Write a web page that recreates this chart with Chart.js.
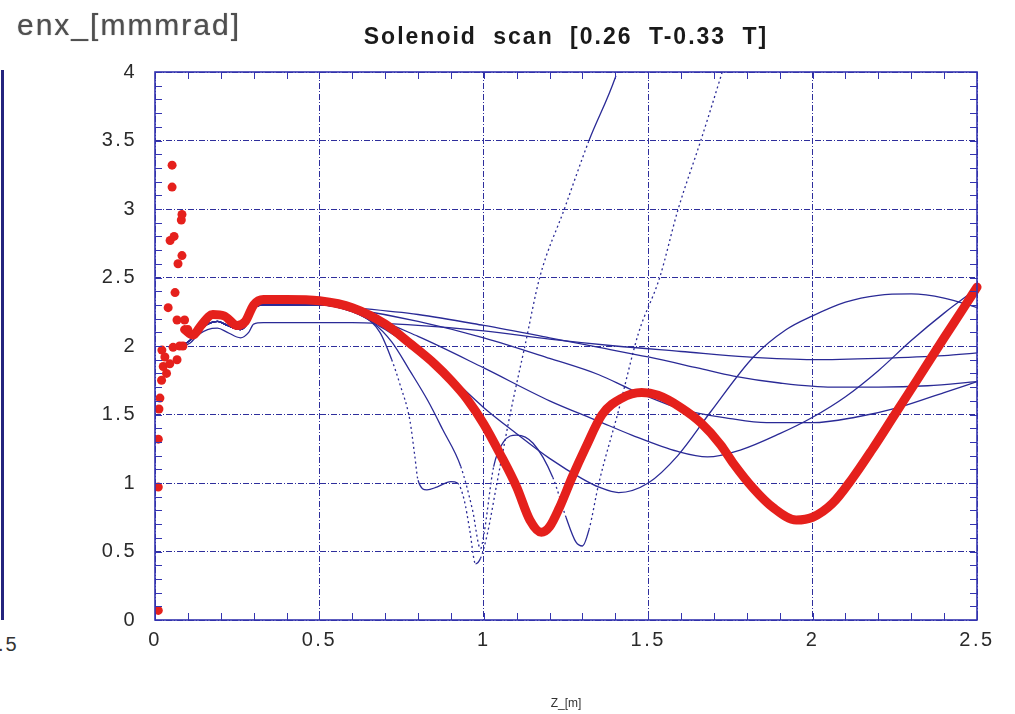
<!DOCTYPE html>
<html>
<head>
<meta charset="utf-8">
<title>Solenoid scan</title>
<script src="https://cdn.jsdelivr.net/npm/chart.js@4.4.1/dist/chart.umd.min.js"></script>
<style>
  html, body { margin: 0; padding: 0; background: #fff; }
  #wrap { position: relative; width: 1015px; height: 714px; overflow: hidden; font-family: "Liberation Sans", Arial, sans-serif; }
  #chartBox { position: absolute; left: 0; top: 0; width: 1015px; height: 714px; }
  #yLabel { position: absolute; left: 17px; top: 10px; font-size: 30px; line-height: 30px; letter-spacing: 2px; color: #4f4f4f; text-shadow: 0 0 1px #777; white-space: nowrap; }
  #mainTitle { position: absolute; left: 155px; width: 822px; top: 22px; text-align: center; font-size: 23px; line-height: 28px; font-weight: bold; letter-spacing: 2px; word-spacing: 8px; color: #1a1a1a; white-space: nowrap; }
  #xLabel { position: absolute; left: 516px; width: 100px; top: 696px; text-align: center; font-size: 12px; line-height: 14px; color: #333; }
  #sideAxis { position: absolute; left: 1px; top: 70px; width: 3px; height: 550px; background: #24247e; }
  #sideTick { position: absolute; left: -2px; top: 634px; font-size: 20px; line-height: 20px; letter-spacing: 2px; color: #333; }
</style>
</head>
<body>
<div id="wrap">
  <div id="sideAxis"></div>
  <div id="sideTick">.5</div>
  <div id="chartBox"><canvas id="scanChart"></canvas></div>
  <div id="yLabel">enx_[mmmrad]</div>
  <div id="mainTitle">Solenoid scan [0.26 T-0.33 T]</div>
  <div id="xLabel">Z_[m]</div>
</div>
<script>
// axis ticks
const zTicks = [0, 0.5, 1, 1.5, 2, 2.5];
const zTickLabels = ['0', '0.5', '1', '1.5', '2', '2.5'];
const enxTicks = [0, 0.5, 1, 1.5, 2, 2.5, 3, 3.5, 4];
const enxTickLabels = ['0', '0.5', '1', '1.5', '2', '2.5', '3', '3.5', '4'];

// red run: noisy start near the cathode, then the thick curve
const redDotZ = [0.01, 0.01, 0.01, 0.012, 0.015, 0.02, 0.021, 0.025, 0.03, 0.035, 0.04, 0.045, 0.046, 0.052, 0.052, 0.055, 0.058, 0.061, 0.067, 0.067, 0.07, 0.075, 0.08, 0.082, 0.082, 0.085, 0.09, 0.1];
const redDotEnx = [0.07, 0.97, 1.32, 1.54, 1.62, 1.75, 1.97, 1.85, 1.92, 1.80, 2.28, 1.87, 2.77, 3.32, 3.16, 1.99, 2.80, 2.39, 1.90, 2.19, 2.6, 2.0, 2.92, 2.96, 2.66, 2.0, 2.19, 2.12];

const redZ = [0.09, 0.116, 0.14, 0.176, 0.21, 0.25, 0.275, 0.3, 0.33, 0.4, 0.5, 0.6, 0.7, 0.775, 0.85, 0.9, 0.95, 1.0, 1.05, 1.1, 1.14, 1.175, 1.2, 1.23, 1.27, 1.31, 1.36, 1.42, 1.48, 1.53, 1.6, 1.66, 1.72, 1.76, 1.82, 1.88, 1.95, 2.0, 2.06, 2.12, 2.18, 2.25, 2.32, 2.4, 2.46, 2.5];
const redEnx = [2.12, 2.08, 2.15, 2.23, 2.22, 2.15, 2.18, 2.30, 2.34, 2.34, 2.33, 2.28, 2.16, 2.02, 1.87, 1.75, 1.61, 1.43, 1.21, 0.97, 0.73, 0.64, 0.68, 0.82, 1.05, 1.26, 1.50, 1.62, 1.66, 1.64, 1.55, 1.44, 1.28, 1.14, 0.96, 0.82, 0.73, 0.75, 0.85, 1.03, 1.24, 1.50, 1.76, 2.06, 2.28, 2.43];

// blue runs share the same start up to z = 0.5
const blueStartZ = [0.08, 0.106, 0.13, 0.16, 0.19, 0.22, 0.26, 0.285, 0.3, 0.33, 0.4, 0.5];
const blueStartEnx = [2.0, 2.04, 2.10, 2.16, 2.18, 2.15, 2.12, 2.18, 2.27, 2.30, 2.30, 2.30];
const lowStartEnx = [2.0, 2.02, 2.08, 2.12, 2.13, 2.10, 2.06, 2.10, 2.16, 2.17, 2.17, 2.17];

const aZ = [0.6, 0.8, 1.0, 1.2, 1.4, 1.6, 1.8, 2.0, 2.2, 2.4, 2.5];
const aEnx = [2.17, 2.15, 2.11, 2.05, 2.0, 1.96, 1.92, 1.90, 1.91, 1.93, 1.95];
const bZ = [0.6, 0.8, 1.0, 1.2, 1.35, 1.5, 1.65, 1.76, 1.9, 2.06, 2.2, 2.35, 2.5];
const bEnx = [2.28, 2.23, 2.15, 2.06, 1.99, 1.92, 1.84, 1.78, 1.73, 1.70, 1.70, 1.71, 1.74];
const cZ = [0.6, 0.8, 1.0, 1.2, 1.35, 1.45, 1.6, 1.75, 1.86, 2.0, 2.13, 2.26, 2.4, 2.5];
const cEnx = [2.27, 2.18, 2.06, 1.91, 1.79, 1.68, 1.54, 1.47, 1.44, 1.44, 1.48, 1.55, 1.66, 1.74];
const dZ = [0.6, 0.8, 1.0, 1.2, 1.35, 1.45, 1.59, 1.68, 1.78, 1.9, 2.0, 2.1, 2.2, 2.3, 2.4, 2.5];
const dEnx = [2.26, 2.07, 1.84, 1.60, 1.45, 1.35, 1.23, 1.19, 1.24, 1.36, 1.48, 1.63, 1.82, 2.04, 2.24, 2.42];
const eZ = [0.6, 0.7, 0.8, 0.9, 1.0, 1.1, 1.2, 1.3, 1.35, 1.41, 1.5, 1.59, 1.69, 1.82, 1.92, 2.0, 2.1, 2.2, 2.3, 2.4, 2.5];
const eEnx = [2.25, 2.12, 1.96, 1.77, 1.55, 1.36, 1.18, 1.03, 0.97, 0.93, 1.0, 1.2, 1.52, 1.92, 2.12, 2.22, 2.32, 2.37, 2.38, 2.35, 2.28];
const gZ = [0.6, 0.663, 0.72, 0.775, 0.83, 0.875, 0.93, 0.966, 0.99, 1.0, 1.03, 1.06, 1.1, 1.15, 1.21, 1.25, 1.28, 1.3, 1.32, 1.35, 1.41, 1.47, 1.535, 1.59, 1.66, 1.72, 1.75];
const gEnx = [2.25, 2.17, 2.03, 1.82, 1.60, 1.39, 1.12, 0.80, 0.52, 0.62, 1.12, 1.30, 1.35, 1.29, 1.04, 0.75, 0.57, 0.54, 0.66, 1.0, 1.53, 2.09, 2.50, 2.99, 3.50, 3.96, 4.2];
const hZ = [0.58, 0.62, 0.684, 0.72, 0.745, 0.775, 0.79, 0.8, 0.827, 0.857, 0.9, 0.92, 0.94, 0.957, 0.975, 0.99, 1.01, 1.04, 1.08, 1.125, 1.17, 1.245, 1.32, 1.40, 1.43];
const hEnx = [2.28, 2.24, 2.10, 1.90, 1.72, 1.46, 1.20, 1.02, 0.95, 0.97, 1.01, 1.0, 0.88, 0.66, 0.41, 0.45, 0.62, 1.0, 1.5, 2.0, 2.5, 3.0, 3.5, 3.96, 4.2];

const RED = '#e5201c';
const BLUE = '#2a2a96';
const GRID = '#2e2e9c';
const FRAME = '#3434b0';

function pts(zs, ys) {
    return zs.map(function (z, i) { return { x: z, y: ys[i] }; });
}

// steep stretches were plotted with sparse points, so they look dotted
function steep(ctx) {
    const dx = ctx.p1.parsed.x - ctx.p0.parsed.x;
    const dy = ctx.p1.parsed.y - ctx.p0.parsed.y;
    return Math.abs(dy / dx) > 6;
}

function blueLine(zs, ys) {
    return {
        data: pts(zs, ys),
        showLine: true,
        borderColor: BLUE,
        borderWidth: 1.3,
        pointRadius: 0,
        cubicInterpolationMode: 'monotone',
        clip: 0,
        segment: {
            borderDash: function (ctx) { return steep(ctx) ? [2, 3] : undefined; }
        }
    };
}

const framePlugin = {
    id: 'frame',
    beforeDraw(chart) {
        chart.ctx.letterSpacing = '2.5px';
    },
    afterDatasetsDraw(chart) {
        const ctx = chart.ctx;
        const a = chart.chartArea;
        const xs = chart.scales.x;
        const ys = chart.scales.y;
        ctx.save();
        ctx.strokeStyle = FRAME;
        ctx.lineWidth = 1;
        ctx.beginPath();
        for (let i = 0; i <= 25; i++) {
            const px = Math.round(xs.getPixelForValue(i / 10)) + 0.5;
            ctx.moveTo(px, a.bottom); ctx.lineTo(px, a.bottom - 7);
            ctx.moveTo(px, a.top); ctx.lineTo(px, a.top + 7);
        }
        for (let i = 0; i <= 40; i++) {
            const py = Math.round(ys.getPixelForValue(i / 10)) + 0.5;
            ctx.moveTo(a.left, py); ctx.lineTo(a.left + 7, py);
            ctx.moveTo(a.right, py); ctx.lineTo(a.right - 7, py);
        }
        ctx.stroke();
        ctx.lineWidth = 1.6;
        ctx.strokeRect(a.left, a.top, a.right - a.left, a.bottom - a.top);
        ctx.restore();
    }
};

const datasets = [
    {
        data: pts(redDotZ, redDotEnx),
        showLine: false,
        pointRadius: 4.5,
        pointBackgroundColor: RED,
        pointBorderWidth: 0,
        clip: 0
    },
    {
        data: pts(redZ, redEnx),
        showLine: true,
        borderColor: RED,
        borderWidth: 9,
        borderCapStyle: 'round',
        borderJoinStyle: 'round',
        pointRadius: 0,
        cubicInterpolationMode: 'monotone',
        clip: 5
    },
    blueLine(blueStartZ.concat(aZ), lowStartEnx.concat(aEnx)),
    blueLine(blueStartZ.concat(bZ), blueStartEnx.concat(bEnx)),
    blueLine(blueStartZ.concat(cZ), blueStartEnx.concat(cEnx)),
    blueLine(blueStartZ.concat(dZ), blueStartEnx.concat(dEnx)),
    blueLine(blueStartZ.concat(eZ), blueStartEnx.concat(eEnx)),
    blueLine(blueStartZ.concat(gZ), blueStartEnx.concat(gEnx)),
    blueLine(blueStartZ.concat(hZ), blueStartEnx.concat(hEnx))
];

const tickFont = { family: '"Liberation Sans", Arial, sans-serif', size: 20 };

new Chart(document.getElementById('scanChart'), {
    type: 'scatter',
    data: { datasets: datasets },
    options: {
        responsive: true,
        maintainAspectRatio: false,
        animation: false,
        events: [],
        layout: { padding: { top: 72, right: 38, left: 0, bottom: 0 } },
        plugins: {
            legend: { display: false },
            title: { display: false },
            tooltip: { enabled: false }
        },
        scales: {
            x: {
                type: 'linear',
                min: 0,
                max: 2.5,
                afterFit: function (s) { s.height = 94; },
                afterBuildTicks: function (s) { s.ticks = zTicks.map(function (v) { return { value: v }; }); },
                ticks: {
                    font: tickFont,
                    color: '#2a2a2a',
                    padding: 8,
                    maxRotation: 0,
                    autoSkip: false,
                    callback: function (v) { return zTickLabels[zTicks.indexOf(v)]; }
                },
                grid: { color: GRID, lineWidth: 1, drawTicks: false },
                border: { display: false, dash: [6, 2, 1, 2] }
            },
            y: {
                type: 'linear',
                min: 0,
                max: 4,
                afterFit: function (s) { s.width = 155; },
                afterBuildTicks: function (s) { s.ticks = enxTicks.map(function (v) { return { value: v }; }); },
                ticks: {
                    font: tickFont,
                    color: '#2a2a2a',
                    padding: 18,
                    autoSkip: false,
                    callback: function (v) { return enxTickLabels[enxTicks.indexOf(v)]; }
                },
                grid: { color: GRID, lineWidth: 1, drawTicks: false },
                border: { display: false, dash: [6, 2, 1, 2] }
            }
        }
    },
    plugins: [framePlugin]
});
</script>
</body>
</html>
